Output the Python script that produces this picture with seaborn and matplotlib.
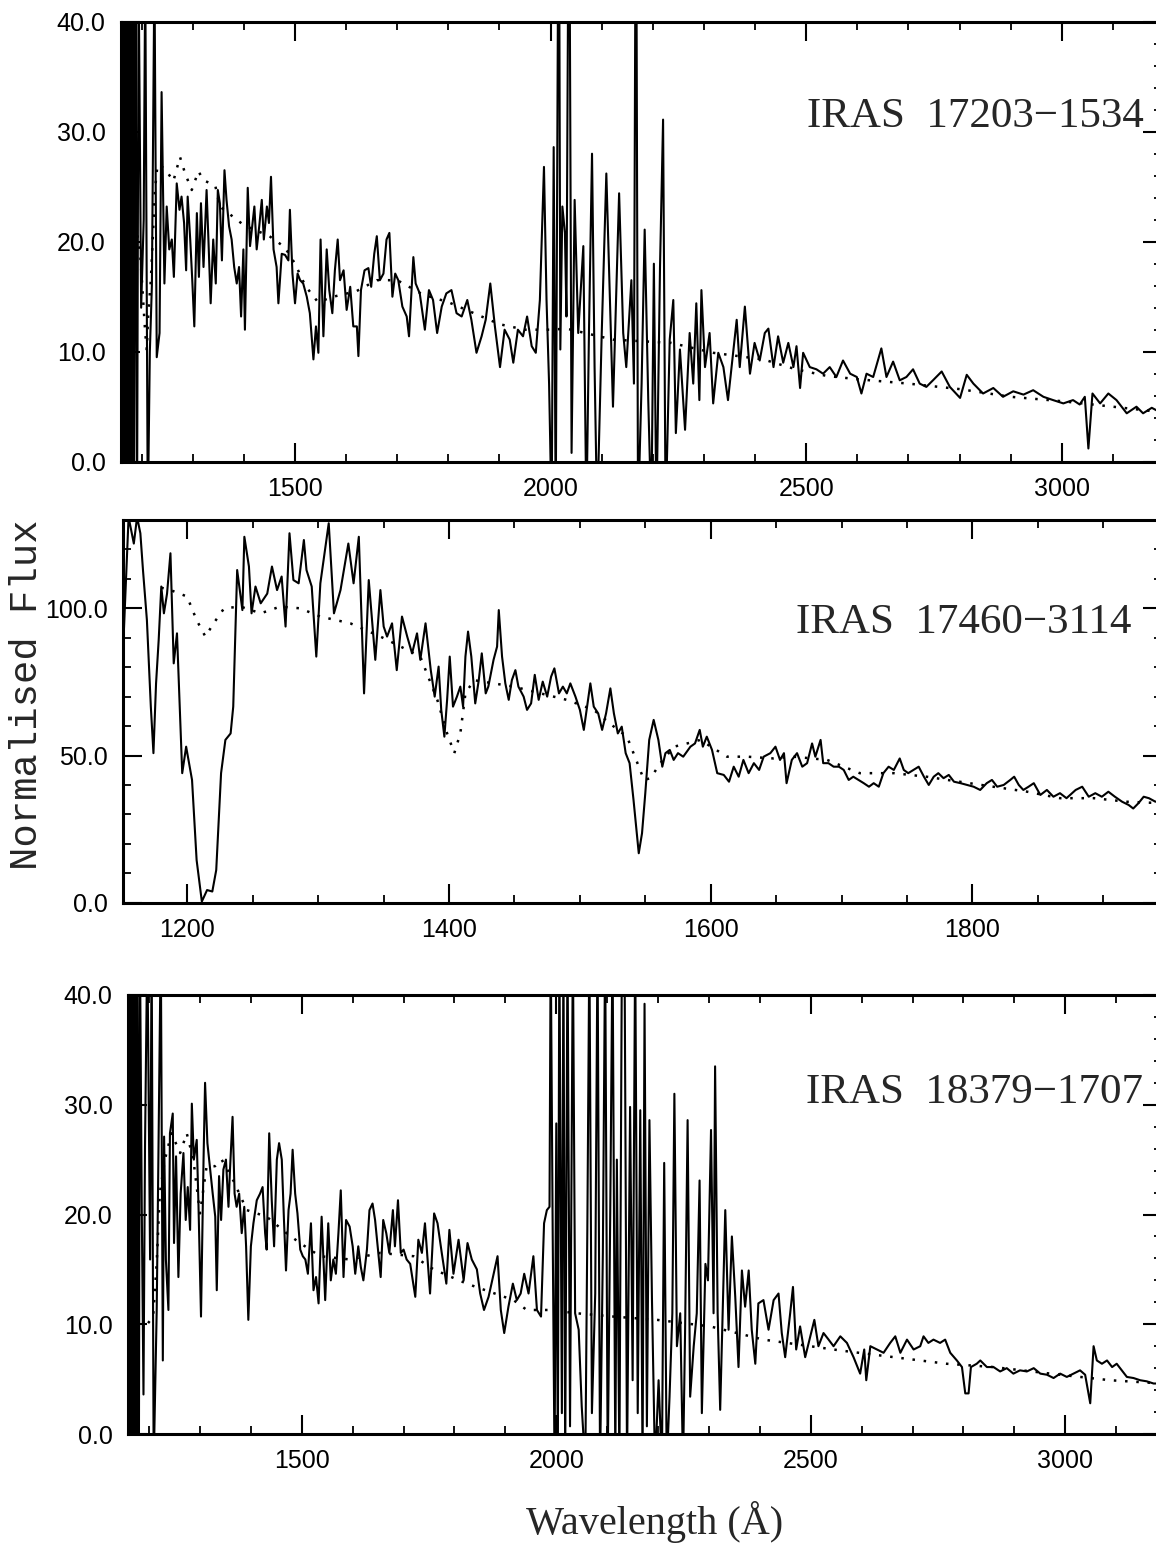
import matplotlib
matplotlib.use("Agg")
import matplotlib.pyplot as plt
from matplotlib import font_manager
from matplotlib.ticker import MultipleLocator, FormatStrFormatter
import seaborn as sns

# ---------------- IRAS 17203-1534 ----------------
wl1 = [1159, 1161, 1163, 1165, 1167, 1169, 1171, 1173, 1175, 1177, 1179, 1181, 1183, 1185,
       1188, 1191, 1194, 1199, 1204, 1207, 1212, 1216, 1220, 1225, 1229.5, 1235, 1239,
       1244.5, 1249, 1254, 1259, 1263, 1268.6, 1274, 1278, 1283, 1287, 1290, 1295, 1299,
       1303, 1308, 1312, 1316, 1321, 1327, 1330.6, 1335, 1340, 1345, 1349, 1353, 1357,
       1362, 1366, 1371, 1376, 1381, 1386, 1390.5, 1394.5, 1399, 1402, 1407.5, 1412, 1417,
       1420.5, 1425, 1430, 1435, 1439, 1445, 1449, 1453, 1458, 1464, 1467.5, 1474, 1480.5,
       1487, 1490, 1495, 1500, 1505, 1510, 1516, 1523, 1529, 1536, 1541, 1545.7, 1550,
       1555.5, 1562, 1567, 1573, 1578, 1583.5, 1588, 1595, 1601, 1608, 1614, 1621, 1624,
       1629, 1636, 1643.5, 1649, 1655, 1660, 1666, 1673, 1679, 1684.6, 1690.5, 1696, 1702,
       1710, 1718.5, 1723, 1731.5, 1736, 1744, 1754, 1762, 1770, 1778, 1787, 1796, 1806,
       1816, 1826, 1837, 1845, 1855, 1865, 1873, 1882, 1891, 1901, 1910, 1920, 1927, 1936,
       1946, 1954, 1963, 1971, 1979, 1987, 1992, 1997, 2002, 2006, 2010, 2016, 2019, 2023,
       2028, 2031, 2036, 2041, 2047, 2054, 2064, 2070, 2075, 2081, 2086, 2091, 2100, 2109,
       2116, 2122, 2134, 2142, 2148, 2158, 2163, 2167, 2171, 2178, 2184, 2191, 2197, 2202,
       2207, 2214, 2220, 2225, 2233, 2240, 2245, 2253, 2263, 2272, 2279, 2285, 2291, 2295,
       2302, 2311, 2318, 2328, 2338, 2347, 2357, 2364, 2370, 2380, 2390, 2399, 2409, 2419,
       2426, 2436, 2445, 2455, 2465, 2475, 2481, 2488, 2494, 2507, 2520, 2533, 2546, 2559,
       2572, 2586, 2599, 2608, 2618, 2631, 2647, 2657, 2670, 2683, 2696, 2709, 2722, 2735,
       2748, 2765, 2781, 2801, 2814, 2827, 2846, 2866, 2885, 2905, 2925, 2944, 2964, 2983,
       3003, 3022, 3035, 3045, 3052, 3060, 3075, 3091, 3107, 3127, 3146, 3159, 3176, 3196]
fl1 = [45, -5, 45, -5, 45, -5, 45, -5, 45, -5, 45, -5, 45, -5,
       45, -5, 45, 14, 22, 45, -5, 10, 16, 45, 9.5, 11.7, 33.6,
       16.2, 23.2, 19.3, 20.2, 16.8, 25.3, 22.9, 24.1, 21.7, 17.4, 24.1, 20.2, 16.5,
       12.3, 22.6, 16.8, 23.5, 17.7, 24.7, 20.2, 14.4, 20.2, 16.2, 24.7, 23.5, 18.3,
       26.5, 23.8, 21.4, 20.2, 17.7, 16.2, 17.7, 13.2, 19.3, 12, 24.9, 19.6, 21.7,
       23.2, 19.3, 21.4, 23.8, 20.2, 23.2, 21.7, 25.9, 19.3, 17.7, 14.4, 18.9, 18.8,
       18.3, 22.9, 17.1, 14.4, 17.1, 16.5, 16.2, 15, 13.5, 9.3, 12.3, 9.9, 20.2,
       11.4, 19.3, 15.6, 13.5, 17.4, 20.2, 16.5, 17.4, 13.8, 15.9, 12.3, 12.3, 9.6,
       15.6, 17.4, 17.6, 15.9, 18.9, 20.5, 16.5, 17.1, 20.2, 20.8, 15, 17.1, 16.5,
       14.1, 13.2, 11.4, 18.6, 16.2, 15.3, 12, 15.6, 14.7, 11.7, 14.1, 15.3, 15.6,
       13.5, 13.2, 14.7, 12.9, 9.9, 11.4, 12.9, 16.2, 12.3, 8.6, 12, 11.1, 9, 12,
       11.4, 13.2, 10.5, 9.9, 14.7, 26.8, 14.7, 7.1, -5, 28.6, -5, 60, 10.2, 23.2,
       20.8, 13.2, 60, 0.8, 23.8, 11.7, 19.6, -5, 11.7, 28, 8.6, -5, 11.7, 26.2,
       14.7, 5, 24.4, 11.7, 8.6, 16.5, 7.1, 60, -5, 7.1, 21.1, 5.6, -5, 18,
       -5, 17.7, 31.1, -5, 11.1, 14.7, 2.6, 10.2, 2.9, 11.7, 7.1, 14.4, 5.6, 15.6,
       8.6, 11.7, 5.3, 9.9, 8.6, 5.6, 9.9, 12.9, 8.6, 14.1, 8.0, 10.8, 9.2, 11.7,
       12.1, 8.6, 11.4, 9, 10.8, 8.6, 10.5, 6.7, 9.9, 8.6, 8.4, 8.0, 8.6, 7.7,
       9.2, 8.0, 7.7, 6.2, 8.0, 7.7, 10.3, 7.7, 9.1, 7.4, 7.7, 8.4, 7.1, 6.8,
       7.4, 8.2, 6.8, 5.8, 7.9, 7.1, 6.2, 6.7, 5.9, 6.4, 6.1, 6.5, 5.9, 5.6,
       5.3, 5.6, 5.2, 5.9, 1.2, 6.2, 5.3, 6.2, 5.6, 4.4, 5.0, 4.4, 4.9, 4.4]
wl1_model = [1184, 1197, 1207, 1210, 1213, 1218, 1226, 1231, 1240, 1249, 1262, 1275, 1285,
             1298, 1311, 1321, 1334, 1344, 1353, 1400, 1450, 1480, 1500, 1520, 1545, 1575,
             1620, 1660, 1700, 1750, 1800, 1850, 1900, 1950, 2000, 2031, 2122, 2236, 2318,
             2416, 2480, 2540, 2600, 2700, 2800, 2900, 3000, 3100, 3196]
fl1_model = [22.6, 19, 11.7, 10.2, 13.5, 16.5, 24.7, 27, 26.8, 26.4, 25.5, 27.7, 26.2,
             24.7, 26.4, 25.6, 25.3, 25.1, 23.2, 21.5, 20.5, 19.5, 18, 16, 14.5, 15,
             15.5, 16.5, 16.5, 15.2, 14.5, 13.5, 12.5, 12, 12, 12.1, 11.1, 10.8, 9.9,
             9.3, 8.4, 7.8, 7.5, 7.1, 6.6, 5.9, 5.5, 5.0, 4.5]

# ---------------- IRAS 17460-3114 ----------------
wl2 = [1151, 1152.5, 1155, 1159, 1161.5, 1164, 1166, 1169, 1172, 1174, 1176, 1178, 1180,
       1182, 1184.4, 1187, 1189.5, 1192, 1196, 1199, 1203.5, 1207, 1211, 1215, 1219, 1222,
       1225.7, 1229, 1233, 1235, 1238, 1242, 1243.5, 1247, 1249, 1252, 1256, 1261, 1264.6,
       1268.5, 1272, 1275, 1278, 1281, 1285, 1289, 1291, 1295, 1298.5, 1301.6, 1308, 1312,
       1317, 1323, 1327, 1331, 1335, 1338.6, 1343.6, 1347.5, 1350, 1352.6, 1356.4, 1360,
       1364, 1368, 1371.7, 1375.5, 1378, 1382, 1386, 1389, 1392, 1394, 1396.4, 1398.5,
       1400.5, 1403, 1406, 1408.6, 1410.7, 1412.5, 1414.5, 1417, 1420, 1422.7, 1425, 1428,
       1430, 1434, 1436.7, 1438, 1440.5, 1443, 1445.6, 1448, 1450.7, 1453, 1457, 1459.6,
       1462.7, 1465.5, 1468.5, 1471.6, 1475, 1478, 1480.5, 1484, 1487, 1490, 1492.7, 1496.6,
       1500, 1503, 1505.5, 1508, 1510.6, 1514, 1517, 1520, 1523.3, 1526, 1529, 1532, 1535,
       1538, 1541, 1545, 1547.5, 1550, 1553, 1556.4, 1560, 1563, 1565.4, 1568.7, 1571.7,
       1575, 1579, 1584.5, 1588, 1591.6, 1594, 1597, 1601, 1605, 1610, 1614, 1617.6, 1621.4,
       1625, 1629, 1633, 1637, 1640.5, 1645.6, 1649.5, 1653, 1656, 1658, 1662, 1666, 1670,
       1673.7, 1677.5, 1680, 1684, 1686, 1690, 1694, 1698, 1701.7, 1705.5, 1709, 1713, 1717,
       1721, 1724.6, 1728.5, 1732, 1736, 1740, 1744.5, 1747.6, 1751, 1755, 1759, 1763,
       1766.7, 1770.5, 1774, 1778, 1782, 1786, 1791, 1796, 1801, 1806, 1811, 1815, 1819,
       1824, 1829, 1832, 1835.5, 1839, 1843, 1847, 1852, 1857, 1862, 1867, 1872, 1879, 1884,
       1889, 1894, 1899, 1904, 1909, 1914.5, 1919.5, 1923, 1927, 1931, 1935, 1940, 1945]
fl2 = [88, 104, 131, 122, 131, 125.5, 113, 96, 66.6, 50.8, 74.5, 89.2, 107.4,
       98.3, 105, 118.7, 81.3, 91.5, 44, 53, 41.7, 14.5, 0.4, 4.3, 3.8, 11.1,
       44, 55.3, 57.5, 66.6, 113, 99.4, 124.3, 114.2, 98.3, 107.4, 101.7, 105, 114.2,
       106.2, 110.8, 93.8, 125.5, 109.6, 108.5, 123.2, 113, 107.4, 83.6, 108.5, 128.9, 98.3,
       106.2, 122, 108.5, 124.3, 71.1, 109.6, 82.5, 106.2, 93.8, 90.4, 94.9, 79,
       97.2, 90.4, 84.7, 91.5, 82.5, 94.9, 79, 70, 80.2, 65.5, 56.4, 68.9,
       83.6, 66.6, 70, 73.4, 66.6, 83.6, 92.1, 83.6, 67.7, 75.6, 84.7, 71.1,
       73.4, 82.5, 87, 99.4, 83.6, 74.5, 68.9, 75.6, 79, 73.4, 70, 65.5,
       67.7, 77.4, 68.9, 75.1, 70, 76.8, 79.6, 71.1, 73.4, 71.1, 74.5, 70,
       65.5, 58.7, 66.6, 74.5, 66.6, 64.3, 58.7, 64.3, 72.8, 64.3, 57.5, 59.8, 50.8,
       47.4, 34.9, 16.8, 23.6, 37.2, 55.3, 62.1, 55.3, 46.2, 50.8, 51.9, 48.5,
       50.8, 49.6, 53, 54.1, 58.7, 53, 56.4, 51.9, 44, 43.4, 41.1, 46.2, 42.8,
       48.5, 44, 47.4, 45.1, 49.6, 50.8, 53, 48.5, 50.8, 40.6, 48.5, 50.8, 46.2,
       47.4, 54.1, 49.6, 55.3, 47.4, 47.4, 46.2, 46.2, 45.1, 41.7, 42.8, 41.7, 40.6,
       39.4, 40.6, 39.4, 44, 46.2, 45.1, 49, 45.1, 44, 45.1, 46.2, 42.8,
       40, 42.8, 44, 42.3, 43.4, 41.1, 40.6, 40, 39.4, 38.3, 40.6, 41.7, 39.4,
       40, 41.7, 42.8, 40, 38.3, 39.4, 40.6, 36.6, 38.3, 36, 37.2, 35.5, 38.3, 39.4,
       36, 37.2, 36, 37.7, 36, 34.3, 33.2, 32, 33.8, 36, 35.5, 34.3, 35]
wl2_model = [1180, 1187, 1199.7, 1207, 1213.7, 1220, 1228, 1240.5, 1256, 1271, 1286, 1301.6,
             1324.5, 1347.5, 1363, 1378, 1391, 1398.5, 1404, 1408.6, 1412.5, 1419, 1434,
             1449.5, 1470, 1490, 1510.6, 1526, 1536, 1544, 1549, 1554, 1561.5, 1572, 1582,
             1592, 1602, 1612.5, 1628, 1648, 1663.5, 1689, 1714, 1740, 1765, 1781, 1816,
             1842, 1867, 1893, 1918, 1945]
fl2_model = [107, 106.2, 104, 96, 90.4, 94.9, 100, 100.6, 98.3, 100.6, 100, 97.2,
             94.9, 90.4, 87, 83.6, 68.9, 57.5, 50.8, 57.5, 71.1, 75.6, 74.5,
             73.4, 71.1, 68.9, 65.5, 59.8, 56.4, 47.4, 41.7, 42.3, 47.4, 53, 54.1,
             55.3, 52.5, 49.6, 49.6, 49, 49.6, 48.5, 44, 44, 42.8, 41.7, 39.4,
             37.7, 35.5, 35.5, 34.3, 33.8]

# ---------------- IRAS 18379-1707 ----------------
wl3 = [1157, 1159, 1161, 1163, 1165, 1167, 1169, 1171, 1173, 1175, 1177, 1180, 1182,
       1185.6, 1189, 1192, 1196.5, 1202, 1205, 1209, 1215, 1223, 1227, 1229.5, 1233, 1238,
       1241, 1246.5, 1249, 1253, 1257.6, 1262, 1267.5, 1272, 1276, 1280.6, 1284, 1288,
       1293.6, 1297, 1302, 1307, 1310, 1314.6, 1320, 1325, 1330, 1333, 1337.5, 1341.5, 1346,
       1351, 1356, 1359, 1364, 1368, 1372, 1377, 1382, 1387, 1390.6, 1395, 1400, 1405,
       1411.6, 1418, 1423, 1428, 1431, 1436, 1441, 1445.6, 1451, 1455.4, 1460.7, 1465, 1469,
       1474, 1478, 1482, 1487, 1491.5, 1497, 1502, 1507, 1512, 1518, 1523, 1528, 1533, 1539,
       1546, 1552, 1557, 1562, 1567, 1572, 1576.6, 1582, 1587, 1594, 1600, 1605, 1611, 1616,
       1621, 1628, 1633, 1639, 1644, 1649, 1655, 1660, 1666, 1672, 1679, 1683, 1689,
       1694.5, 1700, 1706, 1713, 1719, 1723, 1729, 1736, 1742, 1752, 1760, 1766.7,
       1775, 1784, 1790, 1798, 1808, 1818, 1825.6, 1834, 1844, 1850.5, 1858, 1867, 1877,
       1884.6, 1891, 1897.7, 1906, 1914.7, 1922.5, 1930, 1937, 1945.5, 1955, 1962, 1970,
       1976, 1981.5, 1986.7, 1989, 1993, 1996.6, 2000, 2003, 2006, 2011, 2014, 2017.5, 2022,
       2027, 2032.6, 2037, 2044, 2050, 2057, 2061, 2065, 2070, 2076.5, 2081, 2086, 2091.5,
       2096, 2101, 2106, 2110.5, 2116, 2119, 2124, 2129, 2134, 2139, 2145, 2150, 2155, 2160,
       2165, 2169.5, 2173.4, 2178, 2183, 2188, 2194, 2201, 2207.5, 2212, 2217, 2222.5, 2228,
       2232, 2237, 2243.5, 2249, 2253, 2258, 2263, 2270, 2276, 2281.5, 2286, 2293, 2298,
       2304, 2309, 2312, 2317, 2322, 2329, 2332, 2338.5, 2345, 2351.6, 2358, 2364.7, 2371,
       2378, 2384, 2391, 2397, 2407, 2417, 2427, 2436.6, 2443, 2449.7, 2459.5, 2465, 2471.3,
       2479, 2489, 2499, 2507, 2515, 2525, 2535, 2544.7, 2558, 2571, 2584, 2597, 2605, 2609,
       2617, 2630, 2643, 2656, 2666, 2676, 2689, 2702, 2715, 2721.5, 2731, 2741, 2754, 2764,
       2774, 2787, 2797, 2803.5, 2810, 2814.6, 2826, 2833, 2846, 2859, 2872, 2885, 2898,
       2911, 2924.6, 2938, 2951, 2964, 2977, 2990, 3003, 3016, 3029, 3039, 3049, 3055.6,
       3062, 3072, 3082, 3092, 3101, 3111, 3121, 3134, 3147, 3160, 3173.5, 3190]
fl3 = [45, -3, 45, -3, 45, -3, 45, -3, 45, -3, 45, -3, 45,
       20.7, 3.6, 26.2, 45, 15.9, 45, -3, 11.3, 45, 6.7, 27.1, 15.9, 11.3,
       27.4, 29.2, 17.4, 25.3, 14.3, 21.9, 25.6, 19.5, 22.5, 18.6, 30.1, 25,
       26.8, 21, 10.7, 25, 32, 26.5, 24.1, 21.9, 19.8, 13.1, 23.5, 19.5, 24.1,
       25, 20.7, 24.1, 28.9, 21.9, 20.7, 21.9, 18.3, 20.7, 17.1, 10.4, 17.1, 19.2,
       21.3, 21.9, 22.5, 18.3, 16.8, 27.4, 21.3, 17.1, 25, 26.5, 25, 19.5, 14.9,
       20.4, 21.9, 25.9, 21.9, 20.1, 16.8, 16.2, 15.9, 14.6, 19.2, 13.1, 14.3, 11.9, 19.8,
       12.2, 19.2, 14, 15.9, 14.6, 18.3, 22.2, 14.3, 19.5, 18.9, 17.1, 14.6, 17.1, 15.2,
       14, 16.8, 20.4, 21, 19.5, 17.1, 14.3, 19.5, 18.3, 16.5, 20.4, 17.1, 21.3,
       16.5, 16.8, 15.9, 15.5, 13.7, 12.5, 17.7, 16.5, 19.2, 12.8, 20.1, 19.2,
       16.5, 13.7, 18.6, 14.6, 17.7, 14, 17.4, 15.9, 15, 12.8, 11.3, 12.5, 14.6,
       16.2, 11.3, 9.2, 11.6, 13.7, 12.2, 12.8, 14.6, 12.8, 16.2, 11.3, 10.7,
       19.2, 20.4, 20.7, 45, 18, -3, 28.3, -3, 45, 1.9, 45, -3, 45,
       0.7, 45, 11, 9.5, 2.5, -3, 18.6, 45, 1.9, 12.8, 45, -3, 16.5,
       45, -3, 20.1, 45, -3, 25, -3, 45, 45, -3, 29.8, 4.9, 45, 1.9,
       29.5, -3, 39.2, 0.7, 28.6, 12.2, -3, 4.9, -3, 24.7, -3, 3.4, 11,
       31, 8, 11, -3, 9.2, 28.6, 3.4, 8, 11, 23.1, 1.9, 15.5, 14,
       27.7, 11, 33.5, 11, 2.2, 14.9, 20.4, 9.5, 18, 12.5, 6.1, 14.9, 11.6,
       14.9, 9.5, 6.4, 11.9, 12.2, 9.5, 12.2, 12.8, 9.2, 7.0, 11, 13.4, 7.7,
       9.8, 7.0, 8.9, 10.4, 8, 9.2, 8.6, 8, 8.9, 8.3, 7, 5.5, 7.7, 4.9,
       8, 7.7, 7.4, 8.3, 8.9, 7.4, 8.6, 7.7, 8, 8.9, 8.3, 8.6, 8.3, 8.6,
       7.4, 6.7, 6.1, 3.7, 3.7, 6.1, 6.4, 6.7, 6.1, 6.1, 5.7, 6, 5.5,
       5.8, 5.7, 6, 5.5, 5.4, 5.1, 5.5, 5.2, 5.5, 5.8, 5.4, 2.8, 8,
       6.7, 6.4, 6.7, 6.1, 6.4, 5.8, 5.2, 5.1, 4.9, 4.8, 4.6, 4.6]
wl3_model = [1198, 1208, 1215, 1221, 1231, 1244, 1261, 1274, 1287, 1300, 1313, 1329.5,
             1342.6, 1365.5, 1392, 1431, 1470, 1496.5, 1536, 1595, 1654, 1719.5, 1759,
             1824, 1916, 1942, 1988, 2040, 2112.5, 2198, 2302.5, 2407, 2560, 2715, 2767,
             2859, 2990, 3088, 3190]
fl3_model = [10.1, 10.7, 15.6, 21.9, 25, 27.4, 25.6, 27.4, 25, 20.1, 24.4, 24.4,
             25, 23.1, 20.4, 19.8, 18.3, 17.4, 16.2, 15.9, 16.5, 16.2, 15,
             13.7, 12.2, 11.3, 11.3, 11, 10.7, 10.4, 9.8, 8.6, 7.6, 6.7, 6.4,
             6.1, 5.4, 4.9, 4.6]

labels = ["IRAS  17203\u22121534", "IRAS  17460\u22123114", "IRAS  18379\u22121707"]

# ---------------- styling ----------------
sns.set_style("ticks")
available = {f.name for f in font_manager.fontManager.ttflist}
tick_family = "Liberation Sans Narrow" if "Liberation Sans Narrow" in available else "Liberation Sans"
plt.rcParams["font.family"] = [tick_family, "DejaVu Sans"]

W, H = 1156, 1548
fig = plt.figure(figsize=(W / 100, H / 100), dpi=100)

# panel boxes in pixels: left, right, top, bottom
boxes = [(120.7, 1162, 21.7, 461.7), (122.7, 1162, 520, 902.7), (127.7, 1162, 995, 1434)]
xlims = [(1159, 3196), (1150.5, 1945), (1158, 3190)]
ylims = [(0, 40), (0, 130), (0, 40)]
xmaj = [500, 200, 500]
xmin = [100, 50, 100]
ymaj = [10, 50, 10]
ymin = [2, 10, 2]
label_pos = [(0.982, 0.783), (0.971, 0.731), (0.982, 0.777)]

panels = [(wl1, fl1, wl1_model, fl1_model),
          (wl2, fl2, wl2_model, fl2_model),
          (wl3, fl3, wl3_model, fl3_model)]

for i, (wl, fl, wm, fm) in enumerate(panels):
    l, r, t, b = boxes[i]
    ax = fig.add_axes([l / W, 1 - b / H, (r - l) / W, (b - t) / H])
    sns.lineplot(x=wm, y=fm, ax=ax, color="black", lw=1.8, linestyle=(0, (1, 3.5)),
                 estimator=None, sort=False)
    sns.lineplot(x=wl, y=fl, ax=ax, color="black", lw=1.5,
                 estimator=None, sort=False)
    ax.set_xlim(*xlims[i])
    ax.set_ylim(*ylims[i])
    ax.set_xlabel("")
    ax.set_ylabel("")
    ax.xaxis.set_major_locator(MultipleLocator(xmaj[i]))
    ax.xaxis.set_minor_locator(MultipleLocator(xmin[i]))
    ax.yaxis.set_major_locator(MultipleLocator(ymaj[i]))
    ax.yaxis.set_minor_locator(MultipleLocator(ymin[i]))
    ax.yaxis.set_major_formatter(FormatStrFormatter("%.1f"))
    ax.xaxis.set_major_formatter(FormatStrFormatter("%d"))
    ax.tick_params(which="both", direction="in", top=True, right=True,
                   labelsize=18, colors="black")
    ax.tick_params(which="major", length=14, width=1.5)
    ax.tick_params(which="minor", length=6, width=1.3)
    ax.tick_params(axis="x", pad=11)
    ax.tick_params(axis="y", pad=11)
    for s in ax.spines.values():
        s.set_linewidth(2.2)
        s.set_color("black")
        s.set_visible(True)
    ax.text(label_pos[i][0], label_pos[i][1], labels[i], transform=ax.transAxes,
            ha="right", va="center", fontsize=31, family="Liberation Serif")

fig.text(27 / W, 1 - 695 / H, "Normalised Flux", rotation=90, ha="center", va="center",
         fontsize=28, family="Liberation Mono")
fig.text(655 / W, 1 - 1522 / H, "Wavelength (\u00c5)", ha="center", va="center",
         fontsize=29, family="Liberation Serif")

fig.savefig("out.png", dpi=100)
